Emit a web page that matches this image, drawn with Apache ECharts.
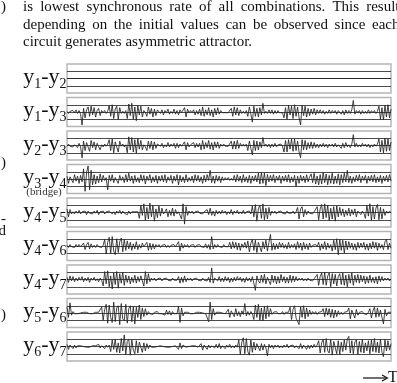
<!DOCTYPE html>
<html><head><meta charset="utf-8">
<script src="https://cdn.jsdelivr.net/npm/echarts@6/dist/echarts.min.js"></script>
<style>html,body{margin:0;padding:0;background:#fff}#c{width:397px;height:383px}</style>
</head><body><div id="c"></div>
<script>
// Pair labels (subscripts) for each strip
const pairs = [['1','2'],['1','3'],['2','3'],['3','4'],['4','5'],['4','6'],['4','7'],['5','6'],['6','7']];
// Difference signals y_i - y_j (box spans -20..20)
const y12 = [0,0,0,0,0,0,0,0,0,0];
const y13 = [1,-2,1,-1,2,-1, 3,-2,2,-3, -18, 5,-8,3,7,-6,8,-4,6,-7,2,5,-5, 2,-1,2,-2,1, 9,-6,10,-9,4,8,-10,6, -2,1,-2,2, -9,11,-5,12,-10,7,-12,9,-4,8,-7, 2,-1, -6,7,-3,5,-7,4,-5,3, 1,-2,3,-4,2,-1,4,-3,1,-2, 4,-3,2,-4,3, -1,1, 6,-7,4, -1,2,-1, 3,-4,2,-3,4, -5,7,-6,3,-4, 6,-5,3,-7,5,-4,6,-3,2, -1,1,-1,1,-1,1, 5,-6,7,-4,6,-5,3, -2,1,-2,2, -6,7,-3,-14,8,-6,5,-7,6,-4,12, -2,1,-2, 3,-2,3,-3,2,-2,2, -1,1,-1, -8,6,-10,9,-4,8,-9,10,-6,7,-8,-18,9,-5,8,-7,5, -5,4,-3,5,-4,3, -2,3,-2,2,-3,1,-2,3,-2,2,-1,2,-3,2, 4,-3,2,-4,3,-2,2, -2,3,16, -3,2,-1,2,-3,2,-2,1,-2,3,-2,2,-1,2,-2,1, 8,-10,6,-11,9,-7,10,-8,4];
const y23 = [-1,2,-1,1,-2,1, 2,-3,3,-2, -17, 6,-7,4,6,-8,7,-3,5,-6,3,4,-6, 1,-2,2,-1,2, 8,-7,9,-10,5,7,-9,6, -1,2,-2,1, -10,12,-6,11,-9,8,-11,10,-5,7,-6, 1,-2, -7,6,-4,6,-6,5,-4,2, 2,-1,3,-3,1,-2,4,-2,2,-1, 3,-4,3,-3,2, -1,2, 5,-6,4, -2,1,-1, 4,-3,3,-2,3, -6,7,-5,4,-3, 7,-5,4,-6,5,-3,5,-4,2, -1,2,-1,1,-1,1, 6,-5,6,-5,7,-4,3, -1,2,-1,2, -7,6,-4,-13,7,-7,6,-6,5,-3,11, -1,2,-2, 2,-3,2,-2,3,-2,1, -1,2,-1, -9,7,-9,8,-5,9,-8,9,-7,6,-9,-17,8,-6,7,-6,4, -4,5,-4,4,-3,2, -3,2,-2,3,-2,2,-3,2,-1,2,-2,3,-2,1, 3,-4,3,-3,4,-2,1, -3,2,15, -2,3,-2,1,-2,3,-1,2,-2,2,-3,1,-2,2,-1,2, 9,-9,7,-10,10,-8,9,-7,5];
const y34 = [4,-6,3,5,-5,6,-3,4,-6,5,-4, 14,-17,9,18,-15,12,-8, 6,-7,4,-5,7,-4,5, -2,2, -15, 5,-3,6,-5,2,4,-6,5,-2,3,-5,6,-4,8,-3,4,-6,5,-4,2,-5,6,-3,5,-7,4,-2,6,-5,3,-4,5,-6,4,-3,5,-4,6,-5,3,-2,5,-6,4,-3,6,-8,5,-4,3,-5,6,-4,2,-3, 4,-5,6,-3,5,-4,3,-6,5,-4,6,-2,12,-5,4,-6,5,-3,4,-5,3,-2, 2,-1,2,-2,1,-2, 5,-4,6,-3,4,-5,6,-4,3,-5,5,-6,4,-3,5,-4, 8,-7,9,-6,8,-9,6, -4,5,-3,6,-5,4,-2,5,-6,4,-3,5,-4,6,-5,3,-4,5,-10,4,-6,5,-3,4,-5,6,-4,3, 7,-5,8,-7,4,-8,6,-7,9,-5,7,-8,5,-6,8,-7,4,-6,7,-8,6,-5,8,-4,12, -5,4,-6,3,-4,5,-3,6,-5,4,-2,5,-6,4,-3,5,-4,6,-5,3,-4,5,-6,4,-3,5,-4,6,-3];
const y45 = [5,-6,4,-2, 1,-2,2,-1,3,-2,1,-1,2,-3,2,-1,1,-2,2,-1,3,-3,1,-1,2,-2,1,-1,2, 3,-2,1,-3,2,-1,3,-2,2,-1,1,-3,2,-2,1, -1,1,-1,1, -8,10,-4,12,-11,7,-9,13,-6,10,-12,5,-7,9,-5,6, -2,1, 5,-6,3,-4,6,-5,4,-2, 1,-1, -9,12,-16,8,-4, 2,-1,2,-2,1,-1,2,-1,1,-2,1,-1, 4,-3,6,-4,2,-5,3,-2, 2,-2,3,-1,2,-3,1,-2,4,-3,2,-1,3,-2,1,-2,3,-2,1,-1,2,-2, 9,-6,11,-12,5,10,-8,12,-10,6,-9,7,-4, 2,-1,2,-2,1,-1,2,-1,1,-2,2,-1,1,-1,2,-2,1, 7,-9,5,8,-6,4,-3, 2,-1,1,-2,1,-1, 8,-10,5,11,-9,12,-7,10,-11,6,-9,8,-12,9,-6,7,-4, 5,-6,3,-4,6,-5,4,-3,5,-6,2,4,-3,2,-1, -8,10,-5,12,-11,8,-9,6,11,-10,7,-9,5,-4, 2,-1,2,-1];
const y46 = [1,-2,2,-1,1,-2,2,-1,2,-1,1, 4,-5,2,5,-4,3,-2, 1,-2,2,-1,1,-2,1, 9,-11,5,12,-10,13,-7,-12,10,-9,6,11,-8,9,-6,7,-4, 5,-6,3,-4,6,-5,2,-3,4, -1,1, 5,-6,4,-5,3,-4,2, -1,2,-2,1,-1,2,-2,1,-2,1,-1,2,-1,1, 6,-7,4,-3, 2,-1,2,-2,1,-1,2,-2,1,-1,2,-1,1,-2, 3,-3,2,-5,13,-4,2, -2,2,-1,1,-2,2,-1,1,-1, 5,-4,6,-3,5,-5,4,-6,3,-2,5,-3, 7,-8,4,9,-6,8,-9,5,7,-8,6,-4,8,-7,5,16,-6, 4,-5,3,-4,5,-2,4,-3,2,-4,5,-3,2,-2,3, -5,6,-3,4,-6,5,-4,3,-5,4, -2,1,-1,2,-1, 5,-6,3,-4,6,-5,4,-3,2, -7,8,-5,10,-12,9,-6,8,-10,7,-5,6,-3, 4,-5,3,-6,5,-3,4,-2,5,-5,3,-6,4,-4,6,-3,5,-6,4,-3,2,-5,6,9,-5,4,-3];
const y47 = [3,-4,5,-2,4,-3,2, -2,3,-1,4,-3,2,-2,3,-4,2,-1,3,-2,1,-3,2,-1, -9,11,-6,12,-10,5,-13,9,-7,11,-12,8,-5,10,-8,6,-4, 5,-6,3,-4,6,-5,4,-3,5,-2, -9,11,-6,8,-3, 2,-1,2,-2,1,-1,2,-2,1,-1,2,-1,1,-2,2,-1,1,-1, 4,-5,3,-4,5,-3,2, -1,2,-2,1,-1,2,-1,1,-2,2,-1,1,-2, 3,-4,16,-5,2, 3,-2,4,-3,2,-3,4,-2,3,-4,2,-3,3,-2,4,-1,3,-3,2,-4,3,-2,2,-3, 4,-5,-15,5,-2, -5,6,-4,7,-6,3,5,-7,6,-4,5,-6,4,-5,7,-3,4,-5,3, -5,6,-4,5,-3,4,-2, 2,-1,2,-2,1,-2,2,-1,1,-2,1,-1, 7,-8,4,9,-7,10,-8,5,9,-10,8,-6,7,-9,4,8,-7,9,-8,6,-10,7,-5,9,-8,6,-4,7, -5,6,-3,5,-6,4,-5,6,-4,3,-5,4,-6,5,-3,4,-2, 2,-1,2,-2,1];
const y56 = [8,-6,14,-3,2, -1,1,-1,1,0,-1,1,-1,1,0,-1,1,-1,0,1,-1,1,-1, 8,-10,5,12,-14,11,-6,-13,15,-12,7,10,-16,13,-8,-11,12,-14,6,10,-12,9,-15,8,-6,11,-9,7,-5,6,-3, 2,-1,1,-2,1,-1,2,-1,1,-1,1, -3,4,-2,3,-3,2, -1,1,-1, 9,-13,7,-4, 1,-1,1,0,-1,1,-1,0,1,-1,1,-1,0,1,-1,1, -12,15,-9,6,-3, 1,-1,1,-1,0,1,-1,1, 5,-6,3,4,-5,6,-4,2,-5,3,-2, 13,-4, 2,-3,2,-1, -9,11,-6,12,-10,7,-11,9,-8,10,-5,6, -2,1,-1,2,-1,1,-1,2,-2,1,-1,1, 8,-9,5,10,-7,-8,-16,9,-6,10,-8,7,-5,4, -2,2,-1,2,-2,1,-1,2, 6,-5,7,-3,6,-6,5,-7,4,-5,3,-2, 1,-2,1,-1,2, 7,-8,4,6,-7,5,-3, 1,-1,2,-1,1,-2,1, 6,-7,3,8,-6,7,-5,4,-6,-15,5,-4, 1,-1,1];
const y67 = [3,-4,2,4,-3,2,-2,1, -1,1,-1,0,1,-1,1,-1,0,1,-1,1,-1, 3,-2,1,3,-3,2,-1,2, -7,9,-4,10,-8,5,-9,11,-6,16,-11,7,10,-12,9,-5,-10,8,-9,6,7,-8,5,-6,4,-3,2, -1,1,-1,1,0,-1,1,-1,0,1,-1,1,-1,1,0,-1,1,-1, -4,5,-3,2, 1,-1,1,0,-1,1,-1,1,0,-1, -3,4,-5,2,3,-4,2,-2,1,-1, -2,3,-2,4,-3,1,2,-3,2,-1,3,-2,1,-2,2,-1, 9,-11,6,12,-10,11,-7,-12,9,-8,6,-5,4, 5,-6,4,-5,3,-2, -13, 3,-2,2,-3,2,-1,2,-2,1,-2,2,-1,3,-2,1,-1,2,-2,1,-1, -3,4,-3,2,3,-4,2,-3,2,-2,3,-1,2, 8,-9,5,10,-8,11,-6,-9,10,-12,7,9,-10,8,-11,6,-7,9,-5,10,14,-9,8,-10,6,9,-11,7,-8,10,-9,5,-6,8,-10,9,-7,11,-8,6,-9,10,-8,-14,9,-6,8,-5,4];
const signals = [y12,y13,y23,y34,y45,y46,y47,y56,y67];
const yTicks = [-20,-10,0,10,20];
// Body text above the figure
const textLines = [
  'is lowest synchronous rate of all combinations. This result',
  'depending on the initial values can be observed since each',
  'circuit generates asymmetric attractor.'
];

const SERIF = '"Liberation Serif","Times New Roman",serif';
const chart = echarts.init(document.getElementById('c'), null, {renderer:'canvas'});
const grids=[], xAxes=[], yAxes=[], series=[], graphics=[];
const top0 = 64, step = 33.5, h = 29, left = 67, right = 6;
signals.forEach((s,k)=>{
  const t = top0 + step*k;
  grids.push({left:left, right:right, top:t, height:h, show:true, borderColor:'#b4b4b4', borderWidth:1.4, backgroundColor:'transparent'});
  xAxes.push({type:'value', gridIndex:k, min:0, max:s.length-1, show:false});
  yAxes.push({type:'value', gridIndex:k, min:yTicks[0], max:yTicks[yTicks.length-1], interval:10,
    axisLine:{show:false}, axisTick:{show:false}, axisLabel:{show:false},
    splitLine:{show:true, showMinLine:false, showMaxLine:false, lineStyle:{color:'#4a4a4a', width:1}}});
  series.push({type:'line', xAxisIndex:k, yAxisIndex:k, data:s.map((v,i)=>[i,v]), showSymbol:false, symbol:'none',
    lineStyle:{color:'#222', width:0.85}, silent:true, animation:false, clip:false});
  graphics.push({type:'text', x:66.5, y:t+13, style:{
    text:'{a|y}{s|'+pairs[k][0]+'}{a|-y}{s|'+pairs[k][1]+'}', align:'right', verticalAlign:'middle',
    rich:{a:{fontSize:22, fontFamily:SERIF, fill:'#111', lineHeight:28}, s:{fontSize:14, fontFamily:SERIF, fill:'#111', lineHeight:14, verticalAlign:'bottom'}}}});
});
graphics.push({type:'text', x:44, y:192.5, style:{text:'(bridge)', fontSize:11, fontFamily:SERIF, fill:'#333', align:'center', verticalAlign:'middle'}});

// justified paragraph lines (last line natural)
const mctx = document.createElement('canvas').getContext('2d');
mctx.font = '15px "Liberation Serif"';
const lineY = [7, 25, 42.5], textLeft = 23, textRight = 399.5;
textLines.forEach((ln,li)=>{
  const words = ln.split(' ');
  const widths = words.map(w=>mctx.measureText(w).width);
  const total = widths.reduce((a,b)=>a+b,0);
  const gap = (li < textLines.length-1) ? (textRight-textLeft-total)/(words.length-1) : mctx.measureText(' ').width;
  let x = textLeft;
  words.forEach((w,wi)=>{
    graphics.push({type:'text', x:x, y:lineY[li], style:{text:w, fontSize:15, fontFamily:SERIF, fill:'#111', align:'left', verticalAlign:'middle'}});
    x += widths[wi] + gap;
  });
});
// fragments of the neighbouring column
[[')',7],[')',163],['-',219],['d',231],[')',315]].forEach(([c,y])=>graphics.push({type:'text', x:6, y:y, style:{text:c, fontSize:15, fontFamily:SERIF, fill:'#111', align:'right', verticalAlign:'middle'}}));
// time arrow
graphics.push({type:'line', shape:{x1:363, y1:378, x2:387, y2:378}, style:{stroke:'#111', lineWidth:1.2}});
graphics.push({type:'polyline', shape:{points:[[382,375],[387.5,378],[382,381]]}, style:{stroke:'#111', lineWidth:1.1, fill:null}});
graphics.push({type:'text', x:388, y:378, style:{text:'T', fontSize:16, fontFamily:SERIF, fill:'#111', align:'left', verticalAlign:'middle'}});

chart.setOption({animation:false, backgroundColor:'#fff', grid:grids, xAxis:xAxes, yAxis:yAxes, series:series, graphic:graphics});
</script></body></html>
